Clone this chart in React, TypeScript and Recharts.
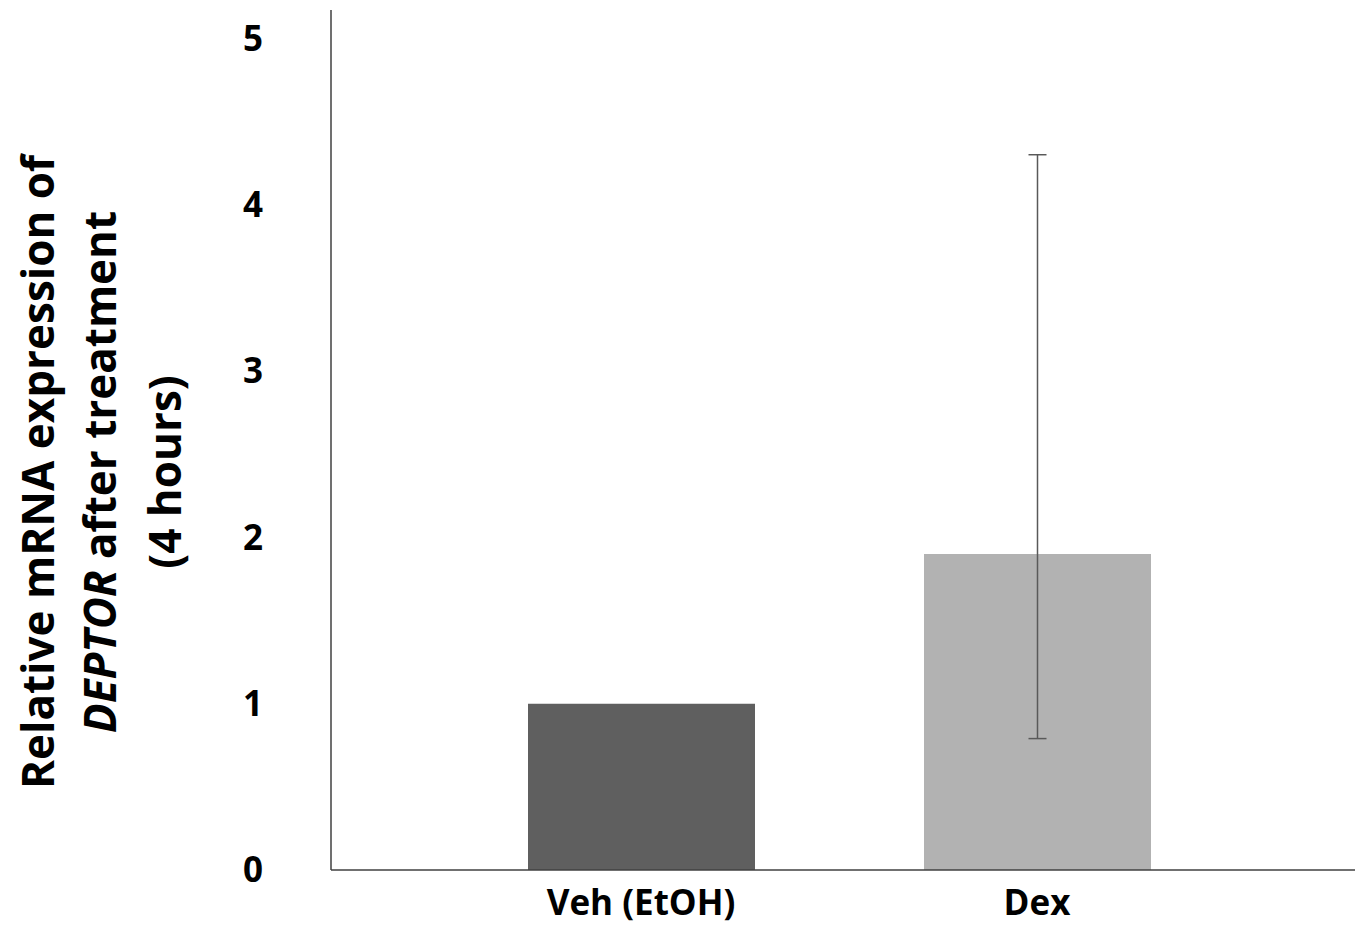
import React from 'react';
import { BarChart, Bar, XAxis, YAxis, ErrorBar, Cell } from 'recharts';

const CATEGORIES = ['Veh (EtOH)', 'Dex'];
const VALUES = [1.0, 1.9];
// Veh has no error bar in the figure
const ERR_LOW: (number | null)[] = [null, 1.11];
const ERR_HIGH: (number | null)[] = [null, 2.4];
const BAR_COLORS = ['#5f5f5f', '#b2b2b2'];
const Y_TICKS = [0, 1, 2, 3, 4, 5];

const data = CATEGORIES.map((name, i) => ({
  name,
  value: VALUES[i],
  err: ERR_LOW[i] == null ? undefined : [ERR_LOW[i], ERR_HIGH[i]],
}));

const FONT = '"Open Sans", Calibri, sans-serif';

const YTitle = () => (
  <g transform="translate(0, 472) rotate(-90)" fontFamily={FONT} fontWeight={700} fontSize={44} fill="#000">
    <text x={0} y={54} textAnchor="middle">Relative mRNA expression of</text>
    <text x={0} y={116} textAnchor="middle">
      <tspan fontStyle="italic">DEPTOR</tspan> after treatment
    </text>
    <text x={0} y={181} textAnchor="middle">(4 hours)</text>
  </g>
);

export default function App() {
  return (
    <div style={{ position: 'absolute', left: 0, top: 0, width: 1361, height: 927, background: '#fff' }}>
      <BarChart width={1361} height={927} data={data} margin={{ top: 10, right: 6, left: 0, bottom: 0 }}>
        <XAxis
          dataKey="name"
          axisLine={{ stroke: '#404040', strokeWidth: 1.5 }}
          tickLine={false}
          tickSize={0}
          tickMargin={20}
          padding={{ left: 112, right: 120 }}
          tick={{ fontFamily: FONT, fontWeight: 700, fontSize: 35, fill: '#000' }}
          height={57}
        />
        <YAxis
          width={331}
          domain={[0, 5.17]}
          ticks={Y_TICKS}
          allowDataOverflow
          axisLine={{ stroke: '#404040', strokeWidth: 1.5 }}
          tickLine={false}
          tickSize={0}
          tickMargin={68}
          tick={{ fontFamily: FONT, fontWeight: 700, fontSize: 35, fill: '#000' }}
          label={{ content: () => <YTitle /> }}
        />
        <Bar dataKey="value" barSize={227} isAnimationActive={false}>
          {data.map((d, i) => (
            <Cell key={d.name} fill={BAR_COLORS[i]} />
          ))}
          <ErrorBar dataKey="err" width={9} stroke="#595959" strokeWidth={1.5} />
        </Bar>
      </BarChart>
    </div>
  );
}
